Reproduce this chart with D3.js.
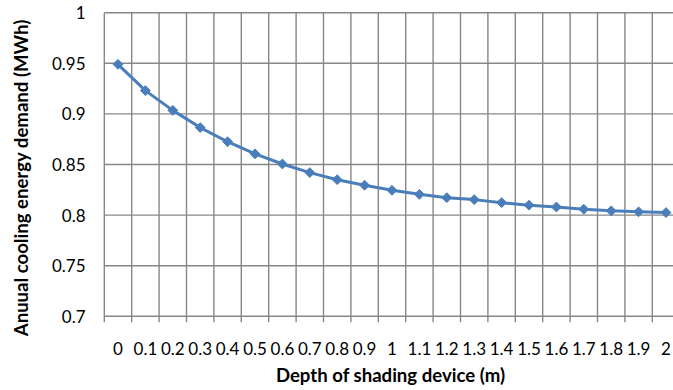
<!DOCTYPE html>
<html>
<head>
<meta charset="utf-8">
<script src="https://cdn.jsdelivr.net/npm/d3@7"></script>
<style>
  html, body { margin: 0; padding: 0; background: #fff; overflow: hidden; }
  svg { display: block; }
  text { font-family: Lato, "Open Sans", sans-serif; fill: #000; }
</style>
</head>
<body>
<svg id="chart" width="673" height="390"></svg>
<script>
// Shading device depth (m) and annual cooling energy demand (MWh)
const depths = ["0","0.1","0.2","0.3","0.4","0.5","0.6","0.7","0.8","0.9","1",
                "1.1","1.2","1.3","1.4","1.5","1.6","1.7","1.8","1.9","2"];
const demand = [0.949, 0.923, 0.9035, 0.8865, 0.8725, 0.8605, 0.8505, 0.842, 0.835, 0.8295, 0.8245,
                0.8205, 0.8172, 0.8153, 0.8123, 0.8098, 0.8080, 0.8058, 0.8042, 0.8032, 0.8025];
const yTicks = [0.7, 0.75, 0.8, 0.85, 0.9, 0.95, 1];
const yTickLabels = ["0.7", "0.75", "0.8", "0.85", "0.9", "0.95", "1"];

const svg = d3.select("#chart");
const plot = { left: 104.3, right: 679.7, top: 12.7, bottom: 316.3 };

const x = d3.scaleBand().domain(depths).range([plot.left, plot.right]).padding(0);
const y = d3.scaleLinear().domain([0.7, 1]).range([plot.bottom, plot.top]);

const gridColor = "#878787";
const seriesColor = "#4a7ebb";

// Vertical gridlines at category boundaries, with tick marks below the axis
const bounds = depths.map(d => x(d)).concat([x(depths[depths.length - 1]) + x.bandwidth()]);
svg.append("g").selectAll("line").data(bounds).join("line")
  .attr("x1", d => d).attr("x2", d => d)
  .attr("y1", plot.top).attr("y2", plot.bottom + 6)
  .attr("stroke", gridColor).attr("stroke-width", 1.4);

// Horizontal gridlines
svg.append("g").selectAll("line").data(yTicks).join("line")
  .attr("x1", plot.left).attr("x2", plot.right)
  .attr("y1", d => y(d)).attr("y2", d => y(d))
  .attr("stroke", gridColor).attr("stroke-width", 1.4);

// Y tick labels
svg.append("g").selectAll("text").data(yTicks).join("text")
  .attr("x", 85.5).attr("y", d => y(d))
  .attr("text-anchor", "end").attr("dominant-baseline", "central")
  .style("font-size", "17px")
  .text((d, i) => yTickLabels[i]);

// X tick labels
svg.append("g").selectAll("text").data(depths).join("text")
  .attr("x", d => x(d) + x.bandwidth() / 2).attr("y", 354.5)
  .attr("text-anchor", "middle")
  .style("font-size", "17px")
  .text(d => d);

// Series line and diamond markers
const cx = (d, i) => x(depths[i]) + x.bandwidth() / 2;
const line = d3.line().x(cx).y(d => y(d));
svg.append("path").datum(demand)
  .attr("d", line).attr("fill", "none")
  .attr("stroke", seriesColor).attr("stroke-width", 3)
  .attr("stroke-linejoin", "round");

svg.append("g").selectAll("path").data(demand).join("path")
  .attr("d", d3.symbol().type(d3.symbolDiamond2).size(62))
  .attr("transform", (d, i) => `translate(${cx(d, i)},${y(d)})`)
  .attr("fill", seriesColor).attr("stroke", seriesColor).attr("stroke-width", 1);

// Axis titles
svg.append("text")
  .attr("x", 390.5).attr("y", 381.5)
  .attr("text-anchor", "middle")
  .style("font-size", "18.6px").style("font-weight", "bold")
  .text("Depth of shading device (m)");

svg.append("text")
  .attr("transform", "translate(28,178) rotate(-90)")
  .attr("text-anchor", "middle")
  .style("font-size", "18.6px").style("font-weight", "bold")
  .text("Anuual cooling energy demand (MWh)");
</script>
</body>
</html>
